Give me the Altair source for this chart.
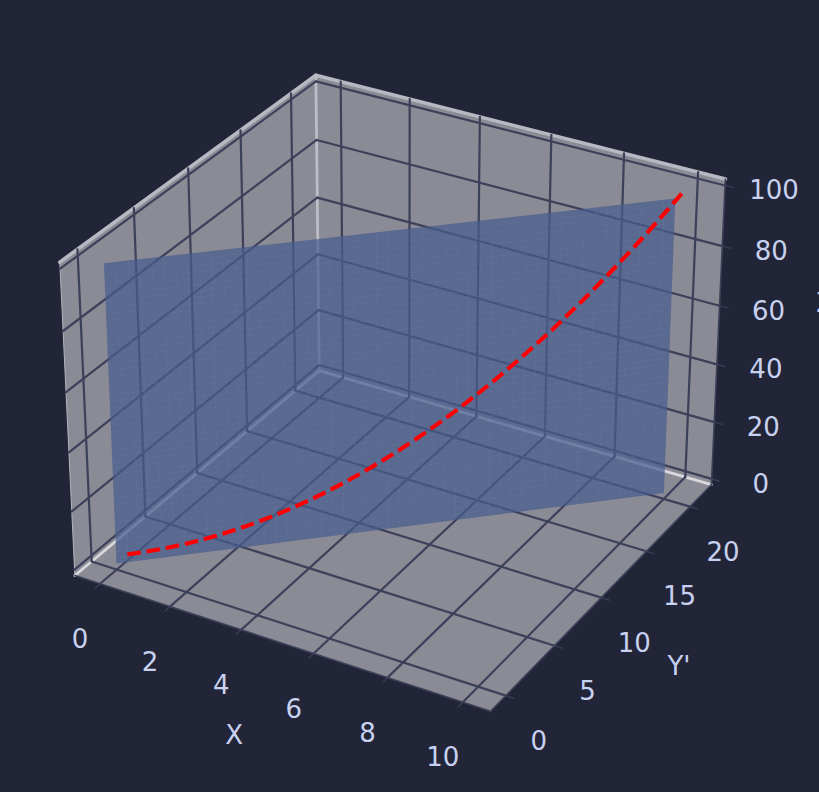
import math
import altair as alt
import pandas as pd

# ---- data ----
x_ticks = [0, 2, 4, 6, 8, 10]
y_ticks = [0, 5, 10, 15, 20]
z_ticks = [0, 20, 40, 60, 80, 100]
x_lim = (-0.729, 10.729)
y_lim = (-1.53, 22.53)
z_lim = (-2.08, 102.08)

curve_x = [0, 0.5, 1, 1.5, 2, 2.5, 3, 3.5, 4, 4.5, 5, 5.5, 6, 6.5, 7, 7.5, 8, 8.5, 9, 9.5, 10]
curve_y = [1, 2, 3, 4, 5, 6, 7, 8, 9, 10, 11, 12, 13, 14, 15, 16, 17, 18, 19, 20, 21]
curve_z = [0, 0.25, 1, 2.25, 4, 6.25, 9, 12.25, 16, 20.25, 25, 30.25, 36, 42.25, 49, 56.25, 64, 72.25, 81, 90.25, 100]

surface_x = [0, 10]
surface_y = [0, 20]
surface_z = [0, 100]
mesh_cells = 49

BG = "#222538"
PANE = "#8b8b96"
GRID = "#3c4059"
TEXT = "#c8d2f0"
SURF = "#465c8c"

# ---- 3-D view (elevation 30, azimuth -60, box 4:4:3) ----
BOX = (1.1905, 1.1905, 0.8929)
U = (0.8660254, 0.5, 0.0)
V = (-0.25, 0.4330127, 0.8660254)
W = (0.4330127, -0.75, 0.5)


def proj(x, y, z):
    p = [(x - x_lim[0]) / (x_lim[1] - x_lim[0]) * BOX[0] - BOX[0] / 2,
         (y - y_lim[0]) / (y_lim[1] - y_lim[0]) * BOX[1] - BOX[1] / 2,
         (z - z_lim[0]) / (z_lim[1] - z_lim[0]) * BOX[2] - BOX[2] / 2]
    dot = lambda a: sum(i * j for i, j in zip(p, a))
    depth = 10 - dot(W)
    return dot(U) / depth, dot(V) / depth


S = 4000.0
CX, CY = 399.0, 378.0
WIDTH, HEIGHT = 819, 792
x_scale = alt.Scale(domain=[-CX / S, (WIDTH - CX) / S], range=[0, WIDTH], nice=False, zero=False)
y_scale = alt.Scale(domain=[(CY - HEIGHT) / S, CY / S], range=[HEIGHT, 0], nice=False, zero=False)
X = alt.X("u:Q", scale=x_scale, axis=None)
Y = alt.Y("v:Q", scale=y_scale, axis=None)


def poly_rows(points, pid):
    """convex polygon -> rows with upper and lower boundary for an area mark"""
    pts = [proj(*p) for p in points]
    n = len(pts)
    rows = []
    for u in sorted({p[0] for p in pts}):
        vs = []
        for i in range(n):
            a, b = pts[i], pts[(i + 1) % n]
            lo, hi = min(a[0], b[0]), max(a[0], b[0])
            if lo <= u <= hi:
                if hi == lo:
                    vs += [a[1], b[1]]
                else:
                    vs.append(a[1] + (b[1] - a[1]) * (u - a[0]) / (b[0] - a[0]))
        rows.append({"u": u, "v": max(vs), "v2": min(vs), "id": pid})
    return rows


def seg(a, b, **kw):
    ua, va = proj(*a)
    ub, vb = proj(*b)
    return dict(u=ua, v=va, u2=ub, v2=vb, **kw)


x0, x1 = x_lim
y0, y1 = y_lim
z0, z1 = z_lim

panes = (poly_rows([(x0, y0, z0), (x1, y0, z0), (x1, y1, z0), (x0, y1, z0)], "floor")
         + poly_rows([(x0, y0, z0), (x0, y1, z0), (x0, y1, z1), (x0, y0, z1)], "left")
         + poly_rows([(x0, y1, z0), (x1, y1, z0), (x1, y1, z1), (x0, y1, z1)], "back"))
pane_layer = alt.Chart(pd.DataFrame(panes)).mark_area(color=PANE, opacity=1, line=False).encode(
    x=X, y=Y, y2="v2:Q", detail="id:N")


def rules(rows, color, width, opacity=1.0):
    return alt.Chart(pd.DataFrame(rows)).mark_rule(
        color=color, strokeWidth=width, opacity=opacity, strokeCap="round"
    ).encode(x=X, y=Y, x2="u2:Q", y2="v2:Q")


floor_edges = [seg((x0, y0, z0), (x0, y1, z0)), seg((x0, y1, z0), (x1, y1, z0))]
back_edge = [seg((x0, y1, z0), (x0, y1, z1))]
top = [seg((x0, y0, z1), (x0, y1, z1)), seg((x0, y1, z1), (x1, y1, z1))]
thin = [seg((x0, y0, z0), (x0, y0, z1))]
dark = [seg((x0, y0, z0), (x1, y0, z0)), seg((x1, y0, z0), (x1, y1, z0)), seg((x1, y1, z0), (x1, y1, z1))]

grid = []
for t in x_ticks:
    grid += [seg((t, y0, z0), (t, y1, z0)), seg((t, y1, z0), (t, y1, z1))]
for t in y_ticks:
    grid += [seg((x1, t, z0), (x0, t, z0)), seg((x0, t, z0), (x0, t, z1))]
for t in z_ticks:
    grid += [seg((x0, y0, t), (x0, y1, t)), seg((x0, y1, t), (x1, y1, t))]

OUT = 0.019
dy_out = (y1 - y0) * OUT
dx_out = (x1 - x0) * OUT
ticks = ([seg((t, y0, z0), (t, y0 - dy_out, z0)) for t in x_ticks]
         + [seg((x1, t, z0), (x1 + dx_out, t, z0)) for t in y_ticks]
         + [seg((x1, y1, t), (x1 + dx_out, y1, t)) for t in z_ticks])

# surface
sx0, sx1 = surface_x
sy0, sy1 = surface_y
sz0, sz1 = surface_z
surface_rows = poly_rows([(sx0, sy0, sz0), (sx1, sy1, sz0), (sx1, sy1, sz1), (sx0, sy0, sz1)], "s")
surface_layer = alt.Chart(pd.DataFrame(surface_rows)).mark_area(color=SURF, opacity=0.72, line=False).encode(
    x=X, y=Y, y2="v2:Q", detail="id:N")

mesh = []
for i in range(1, mesh_cells):
    f = i / mesh_cells
    xf = sx0 + (sx1 - sx0) * f
    yf = sy0 + (sy1 - sy0) * f
    zf = sz0 + (sz1 - sz0) * f
    mesh.append(seg((xf, yf, sz0), (xf, yf, sz1)))
    mesh.append(seg((sx0, sy0, zf), (sx1, sy1, zf)))
mesh_layer = rules(mesh, "#8ea2cc", 0.5, 0.16)

curve_rows = []
for i, (a, b, c) in enumerate(zip(curve_x, curve_y, curve_z)):
    u, v = proj(a, b, c)
    curve_rows.append({"u": u, "v": v, "i": i})
curve_layer = alt.Chart(pd.DataFrame(curve_rows)).mark_line(
    color="#ff0000", strokeWidth=4.1, strokeDash=[13.5, 6], interpolate="monotone"
).encode(x=X, y=Y, order="i:Q")


def labels(rows, dx, dy, align="center", baseline="middle"):
    df = pd.DataFrame(rows)
    return alt.Chart(df).mark_text(
        font="DejaVu Sans", fontSize=26, color=TEXT, align=align, baseline=baseline, dx=dx, dy=dy
    ).encode(x=X, y=Y, text="t:N")


def lab(p, t):
    u, v = proj(*p)
    return {"u": u, "v": v, "t": t}


x_lab = labels([lab((t, y0, z0), str(t)) for t in x_ticks], -20, 56)
y_lab = labels([lab((x1, t, z0), str(t)) for t in y_ticks], 33, 46)
z_lab = labels([lab((x1, y1, t), str(t)) for t in z_ticks], 49, 6)
ax_x = labels([lab(((x0 + x1) / 2, y0, z0), "X")], -43, 94)
ax_y = labels([lab((x1, (y0 + y1) / 2, z0), "Y'")], 73, 74)
ax_z = labels([lab((x1, y1, (z0 + z1) / 2), "Z")], 98, -23, align="left", baseline="alphabetic")

chart = alt.layer(
    pane_layer,
    rules(thin, "#b4b4bc", 1),
    rules(floor_edges, "#d8d8dc", 2.8),
    rules(back_edge, "#bdbdc6", 2.8),
    rules(top, "#b8b8c2", 3.6),
    rules(grid, GRID, 2.2),
    rules(ticks, GRID, 1.2),
    rules(dark, GRID, 1.6),
    surface_layer,
    mesh_layer,
    curve_layer,
    x_lab, y_lab, z_lab, ax_x, ax_y, ax_z,
).properties(
    width=WIDTH, height=HEIGHT, padding=0, background=BG,
    autosize=alt.AutoSizeParams(type="none"),
).configure_view(strokeWidth=0)

chart.save("out.html", embed_options={"renderer": "svg", "actions": False,
                                      "defaultStyle": "html,body{margin:0 !important;padding:0;background:#222538 !important;overflow:hidden} svg{display:block;max-width:none}"})
